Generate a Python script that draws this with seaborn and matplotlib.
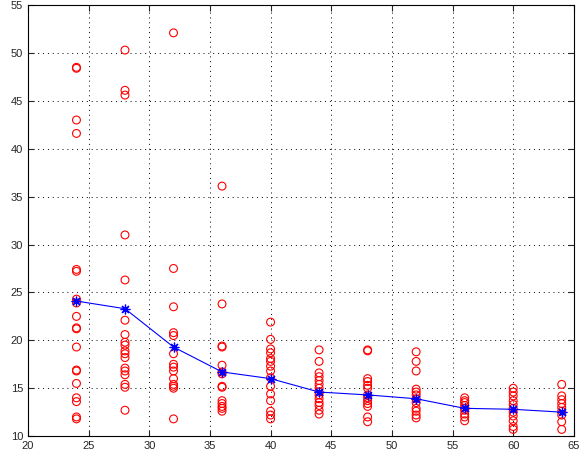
import numpy as np
import pandas as pd
import seaborn as sns
import matplotlib.pyplot as plt

# valores, por columna de x
x_vals = [24, 28, 32, 36, 40, 44, 48, 52, 56, 60, 64]

y24 = [48.5, 48.4, 43.0, 41.6, 27.4, 27.2, 24.3, 23.9, 22.5, 21.3, 21.2,
       19.3, 16.9, 16.8, 15.5, 14.0, 13.6, 12.0, 11.8]
y28 = [50.3, 46.1, 45.6, 31.0, 26.3, 22.1, 20.6, 19.8, 19.5, 18.9, 18.6,
       18.2, 17.1, 16.8, 16.4, 15.4, 15.1, 12.7]
y32 = [52.1, 27.5, 23.5, 20.8, 20.5, 18.6, 17.5, 17.2, 16.8, 16.0, 15.4,
       15.2, 15.0, 11.8]
y36 = [36.1, 23.8, 19.4, 19.3, 17.4, 16.7, 16.5, 15.2, 15.1, 13.7, 13.4,
       13.1, 12.9, 12.6]
y40 = [21.9, 20.1, 19.1, 18.7, 18.1, 17.8, 17.3, 16.8, 16.1, 15.2, 14.4,
       13.7, 12.6, 12.2, 11.8]
y44 = [19.0, 17.8, 16.6, 16.2, 15.8, 15.4, 15.0, 14.6, 14.3, 13.9, 13.5,
       13.2, 12.7, 12.3]
y48 = [19.0, 18.9, 16.0, 15.7, 15.3, 15.0, 14.3, 14.0, 13.7, 13.4, 13.1,
       12.0, 11.5]
y52 = [18.8, 17.8, 16.8, 14.9, 14.6, 14.3, 13.9, 13.5, 12.9, 12.6, 12.2,
       11.9]
y56 = [14.0, 13.7, 13.5, 13.2, 12.9, 12.7, 12.3, 12.0, 11.6]
y60 = [15.0, 14.6, 14.2, 13.7, 13.3, 12.9, 12.5, 12.1, 11.6, 11.0, 10.7]
y64 = [15.4, 14.2, 13.8, 13.4, 13.0, 12.6, 12.2, 11.5, 10.7]

# medias (línea azul con asteriscos)
y_media = [24.1, 23.3, 19.3, 16.7, 16.0, 14.6, 14.3, 13.9, 12.9, 12.8, 12.5]

columnas = [y24, y28, y32, y36, y40, y44, y48, y52, y56, y60, y64]
df = pd.DataFrame({
    'x': np.repeat(x_vals, [len(c) for c in columnas]),
    'y': np.concatenate(columnas),
})

sns.set_style('ticks')
plt.rcParams['font.family'] = ['Liberation Sans', 'DejaVu Sans']

fig = plt.figure(figsize=(5.82, 4.61), dpi=100)
ax = fig.add_axes([0.048, 0.054, 0.938, 0.935])

sns.scatterplot(data=df, x='x', y='y', marker='o', s=32,
                facecolors='none', edgecolors='red', linewidth=0.8, ax=ax)
sns.lineplot(x=x_vals, y=y_media, color='blue', linewidth=0.8,
             marker=(8, 2, 0), markersize=7, markeredgecolor='blue',
             markeredgewidth=0.9, ax=ax)

ax.set_xlim(20, 65)
ax.set_ylim(10, 55)
ax.set_xticks(np.arange(20, 66, 5))
ax.set_yticks(np.arange(10, 56, 5))
ax.set_xlabel('')
ax.set_ylabel('')
ax.grid(True, linestyle=(0, (1, 4)), color='black', linewidth=0.7)
ax.tick_params(direction='in', top=True, right=True, length=4,
               labelsize=8, width=0.8)
for s in ax.spines.values():
    s.set_linewidth(0.8)
    s.set_color('black')

plt.savefig('out.png', dpi=100)
